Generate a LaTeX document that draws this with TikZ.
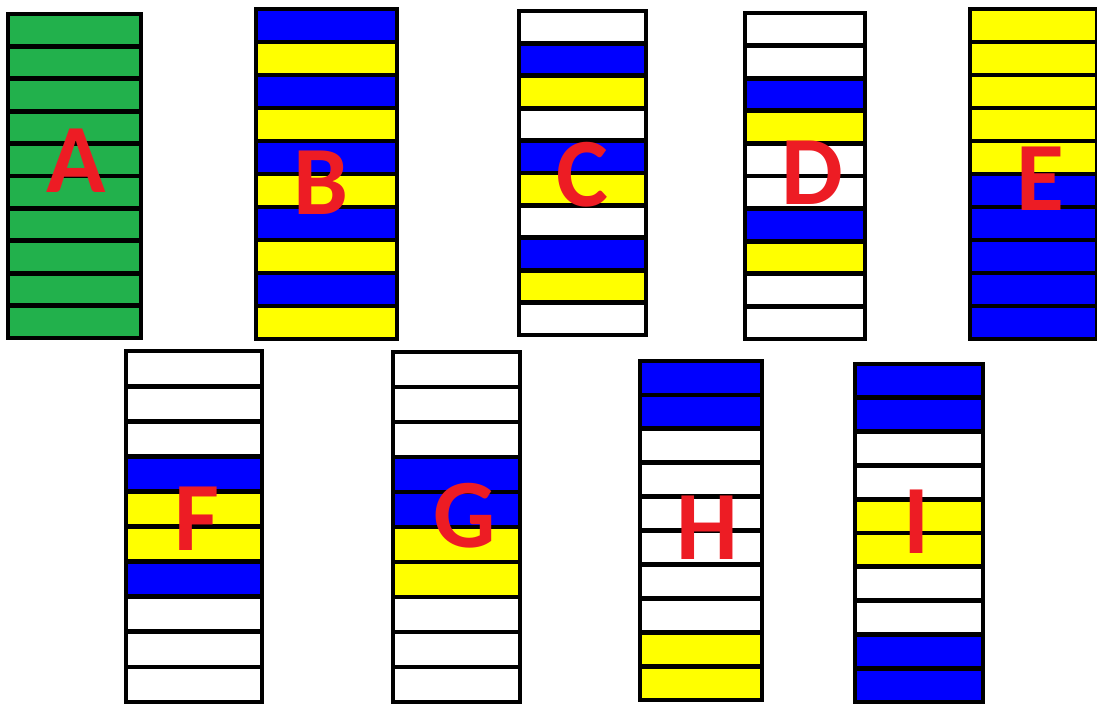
\documentclass[tikz,border=0pt]{standalone}
\usepackage{fontspec}
\newfontfamily\letterfont{Carlito}

\definecolor{bandgreen}{RGB}{34,177,76}
\definecolor{bandblue}{RGB}{0,0,255}
\definecolor{bandyellow}{RGB}{255,255,0}
\definecolor{lettered}{RGB}{237,28,36}

\tikzset{
  frame/.style={draw=black, line width=4pt},
  sepline/.style={draw=black, line width=4.8pt},
  letter/.style={text=lettered, font=\letterfont\bfseries\fontsize{98}{98}\selectfont, inner sep=0pt}
}

% #1 left, #2 top, #3 right, #4 bottom, #5 band colours from top to bottom
\newcommand{\bandcolumn}[5]{
  \pgfmathsetmacro{\bandh}{(#4-#2)/10}
  \foreach \c [count=\i from 0] in {#5}
    \fill[\c] (#1,#2+\i*\bandh) rectangle (#3,#2+\i*\bandh+\bandh);
  \foreach \i in {1,...,9}
    \draw[sepline] (#1,#2+\i*\bandh) -- (#3,#2+\i*\bandh);
  \draw[frame] (#1,#2) rectangle (#3,#4);
}

\begin{document}
\begin{tikzpicture}[x=1pt, y=-1pt]
    \useasboundingbox (0,0) rectangle (1097,704);

    % Top row
    \bandcolumn{8}{14}{141}{338}{bandgreen,bandgreen,bandgreen,bandgreen,bandgreen,bandgreen,bandgreen,bandgreen,bandgreen,bandgreen}
    \bandcolumn{256}{9}{397}{339}{bandblue,bandyellow,bandblue,bandyellow,bandblue,bandyellow,bandblue,bandyellow,bandblue,bandyellow}
    \bandcolumn{519}{11}{646}{335}{white,bandblue,bandyellow,white,bandblue,bandyellow,white,bandblue,bandyellow,white}
    \bandcolumn{745}{13}{865}{339}{white,white,bandblue,bandyellow,white,white,bandblue,bandyellow,white,white}
    \bandcolumn{970}{9}{1097}{339}{bandyellow,bandyellow,bandyellow,bandyellow,bandyellow,bandblue,bandblue,bandblue,bandblue,bandblue}

    % Bottom row
    \bandcolumn{126}{351}{262}{702}{white,white,white,bandblue,bandyellow,bandyellow,bandblue,white,white,white}
    \bandcolumn{393}{352}{520}{702}{white,white,white,bandblue,bandblue,bandyellow,bandyellow,white,white,white}
    \bandcolumn{640}{361}{762}{700}{bandblue,bandblue,white,white,white,white,white,white,bandyellow,bandyellow}
    \bandcolumn{855}{364}{983}{702}{bandblue,bandblue,white,white,bandyellow,bandyellow,white,white,bandblue,bandblue}

    % Labels
    \node[letter] (labA) at (76,161) {A};
    \node[letter] (labB) at (321,183) {B};
    \node[letter] (labC) at (582,175) {C};
    \node[letter] (labD) at (812,173) {D};
    \node[letter] (labE) at (1040,179) {E};
    \node[letter] (labF) at (197,519) {F};
    \node[letter] (labG) at (465,516) {G};
    \node[letter] (labH) at (707,528) {H};
    \node[letter] (labI) at (917,522) {I};
\end{tikzpicture}
\end{document}
